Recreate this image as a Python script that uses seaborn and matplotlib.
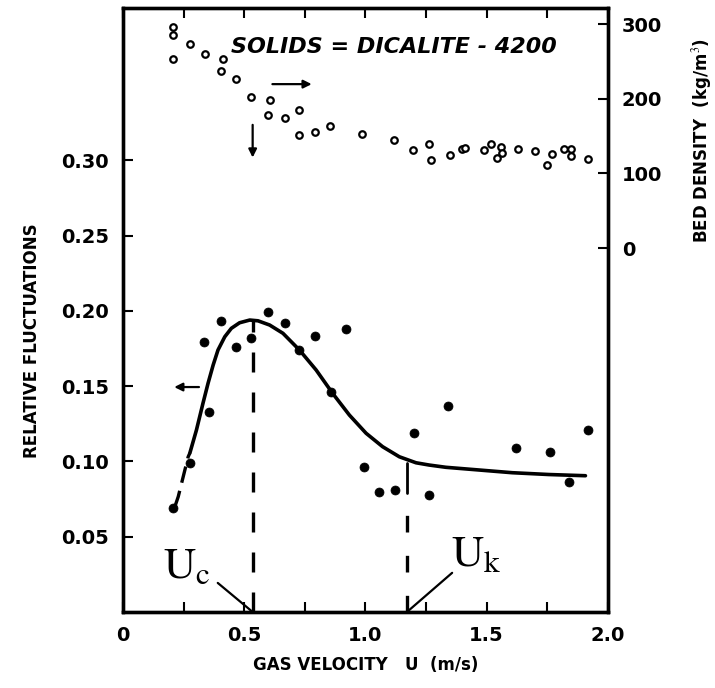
import numpy as np
import pandas as pd
import matplotlib
matplotlib.use("Agg")
import matplotlib.pyplot as plt
import seaborn as sns

# ---- data ----
fluct_u = [0.207, 0.276, 0.335, 0.354, 0.406, 0.465, 0.530, 0.598, 0.667, 0.728, 0.794,
           0.859, 0.920, 0.996, 1.058, 1.123, 1.200, 1.263, 1.339, 1.620, 1.760, 1.840, 1.920]
fluct_rf = [0.069, 0.099, 0.179, 0.133, 0.193, 0.176, 0.182, 0.199, 0.192, 0.174, 0.183,
            0.146, 0.188, 0.096, 0.080, 0.081, 0.119, 0.078, 0.137, 0.109, 0.106, 0.086, 0.121]

dens_u = [0.206, 0.206, 0.276, 0.206, 0.337, 0.413, 0.406, 0.465, 0.530, 0.605, 0.598,
          0.667, 0.726, 0.855, 0.728, 0.794, 0.986, 1.119, 1.195, 1.263, 1.270, 1.350,
          1.400, 1.410, 1.490, 1.520, 1.560, 1.565, 1.544, 1.630, 1.700, 1.770, 1.750,
          1.820, 1.850, 1.850, 1.920]
dens_kg = [296, 285, 273, 253, 260, 253, 237, 226, 202, 199, 179,
           174, 185, 164, 151, 155, 153, 145, 132, 140, 118, 125,
           133, 134, 131, 139, 135, 128, 121, 133, 130, 126, 111,
           133, 133, 124, 119]

curve_dash_u = [0.214, 0.228, 0.269, 0.276]
curve_dash_rf = [0.0699, 0.0766, 0.1031, 0.1056]
curve_u = [0.276, 0.303, 0.330, 0.351, 0.372, 0.392, 0.420, 0.447, 0.481, 0.523, 0.557,
           0.605, 0.660, 0.728, 0.797, 0.865, 0.934, 1.003, 1.071, 1.140, 1.209, 1.263,
           1.332, 1.469, 1.606, 1.757, 1.908]
curve_rf = [0.1056, 0.1208, 0.1386, 0.1519, 0.1640, 0.1740, 0.1828, 0.1884, 0.1921, 0.1939,
            0.1934, 0.1906, 0.1851, 0.1740, 0.1607, 0.1452, 0.1308, 0.1187, 0.1098, 0.1031,
            0.0991, 0.0976, 0.0961, 0.0943, 0.0925, 0.0913, 0.0905]

u_c = 0.535
u_c_top = 0.194
u_k = 1.17
u_k_top = 0.099
u_k_solid_end = 0.079

x_major = [0, 0.5, 1.0, 1.5, 2.0]
x_labels = ["0", "0.5", "1.0", "1.5", "2.0"]
x_minor = [0.25, 0.75, 1.25, 1.75]
yl_ticks = [0.05, 0.10, 0.15, 0.20, 0.25, 0.30]
yl_labels = ["0.05", "0.10", "0.15", "0.20", "0.25", "0.30"]
yr_ticks = [0, 100, 200, 300]
yr_labels = ["0", "100", "200", "300"]

sns.set_style("ticks", {"axes.edgecolor": "black", "xtick.color": "black",
                        "ytick.color": "black", "text.color": "black",
                        "axes.labelcolor": "black"})
plt.rcParams["font.family"] = ["DejaVu Sans"]
plt.rcParams["mathtext.fontset"] = "stix"

fig = plt.figure(figsize=(7.15, 6.88), dpi=100)
ax = fig.add_axes([0.172, 0.1105, 0.678, 0.8775])
ax2 = ax.twinx()

fl = pd.DataFrame({"u": fluct_u, "rf": fluct_rf})
de = pd.DataFrame({"u": dens_u, "d": dens_kg})
cd = pd.DataFrame({"u": curve_dash_u, "rf": curve_dash_rf})
cs = pd.DataFrame({"u": curve_u, "rf": curve_rf})

sns.lineplot(data=cs, x="u", y="rf", ax=ax, color="black", lw=2.6, sort=False, estimator=None)
sns.lineplot(data=cd, x="u", y="rf", ax=ax, color="black", lw=2.4, sort=False, estimator=None,
             dashes=False, linestyle=(0, (5, 2.5)))
sns.scatterplot(data=fl, x="u", y="rf", ax=ax, color="black", s=42, marker="o", edgecolor="black",
                linewidth=0.5, zorder=5)
sns.scatterplot(data=de, x="u", y="d", ax=ax2, facecolor="white", edgecolor="black", s=22,
                marker="o", linewidth=1.6, zorder=5)

# vertical markers
ax.plot([u_c, u_c], [0, u_c_top], color="black", lw=2.4, linestyle=(0, (6, 6)))
ax.plot([u_k, u_k], [u_k_solid_end, u_k_top], color="black", lw=2.0)
ax.plot([u_k, u_k], [0, u_k_solid_end], color="black", lw=2.4, linestyle=(0, (5, 7)))

# annotations
ax.plot([0.391, 0.535], [0.0193, 0.0], color="black", lw=1.6)
ax.plot([1.358, 1.181], [0.026, 0.0013], color="black", lw=1.6)
ax.text(0.263, 0.031, r"$\mathrm{U_c}$", fontsize=32, ha="center", va="center")
ax.text(1.457, 0.039, r"$\mathrm{U_k}$", fontsize=32, ha="center", va="center")
ax.text(1.119, 0.375, "SOLIDS = DICALITE - 4200", fontsize=16, fontweight="bold",
        fontstyle="italic", ha="center", va="center")

ax.annotate("", xy=(0.79, 0.3506), xytext=(0.605, 0.3506),
            arrowprops=dict(arrowstyle="-|>", color="black", lw=1.6, mutation_scale=12))
ax.annotate("", xy=(0.535, 0.300), xytext=(0.535, 0.3254),
            arrowprops=dict(arrowstyle="-|>", color="black", lw=1.6, mutation_scale=12))
ax.annotate("", xy=(0.200, 0.1494), xytext=(0.325, 0.1494),
            arrowprops=dict(arrowstyle="-|>", color="black", lw=1.6, mutation_scale=12))

ax.set_xlim(0, 2.0)
ax.set_ylim(0, 0.401)
ax2.set_ylim(-487.5, 321.4)

ax.set_xticks(x_major)
ax.set_xticklabels(x_labels)
ax.set_xticks(x_minor, minor=True)
ax.set_yticks(yl_ticks)
ax.set_yticklabels(yl_labels)
ax2.set_yticks(yr_ticks)
ax2.set_yticklabels(yr_labels)

ax.tick_params(axis="x", which="both", direction="in", top=True, length=7, width=1.5,
               labelsize=14, pad=10, color="black")
ax.tick_params(axis="y", direction="in", length=7, width=1.5, labelsize=14, pad=10, color="black")
ax2.tick_params(axis="y", direction="in", length=7, width=1.5, labelsize=14, pad=10, color="black")
for lab in ax.get_xticklabels() + ax.get_yticklabels() + ax2.get_yticklabels():
    lab.set_fontweight("bold")
    lab.set_color("black")

for a in (ax, ax2):
    for sp in a.spines.values():
        sp.set_linewidth(2.4)
        sp.set_color("black")
        sp.set_visible(True)

ax.set_xlabel("GAS VELOCITY   U  (m/s)", fontsize=12, fontweight="bold", labelpad=8, color="black")
ax.set_ylabel("RELATIVE FLUCTUATIONS", fontsize=12, fontweight="bold", color="black")
ax.yaxis.set_label_coords(-0.17, 0.45)
ax2.set_ylabel("BED DENSITY  (kg/m$^3$)", fontsize=12, fontweight="bold", labelpad=12, color="black")
ax2.yaxis.set_label_coords(1.17, 0.78)

fig.savefig("out.png", dpi=100)
